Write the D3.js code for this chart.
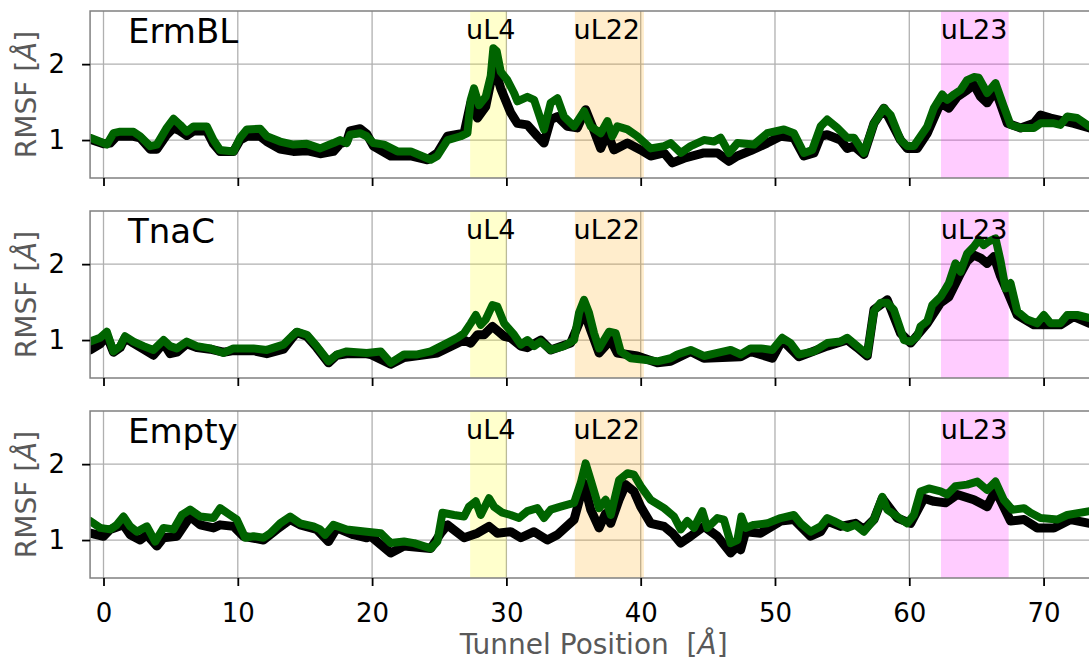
<!DOCTYPE html>
<html><head><meta charset="utf-8">
<script src="https://cdn.jsdelivr.net/npm/d3@7"></script>
<style>
body{margin:0;background:#fff}
svg{display:block}
text{font-family:"DejaVu Sans",sans-serif}
</style>
</head><body>
<svg id="c" width="1089" height="664"></svg>
<script>
// ---------- data ----------
const panelNames = ["ErmBL", "TnaC", "Empty"];
const xTicks = [0, 10, 20, 30, 40, 50, 60, 70];
const yTicks = [1, 2];
const regionNames = ["uL4", "uL22", "uL23"];
const regionStart = [27.3, 35.1, 62.36];
const regionEnd = [30.02, 40.24, 67.4];
const regionLabelX = [27.0, 35.0, 62.35];

// ErmBL panel
const ermblBlack = [[-0.99,1.01],[0,0.95],[0.5,0.96],[0.99,1.05],[2.23,1.05],[2.73,1.03],[3.47,0.88],[3.97,0.88],[4.71,1.07],[5.21,1.16],[5.71,1.12],[6.2,1.06],[6.7,1.12],[7.69,1.12],[8.19,0.95],[8.68,0.85],[9.68,0.85],[10.17,1.0],[10.67,1.05],[11.66,1.05],[12.16,0.98],[13.15,0.88],[14.14,0.85],[15.14,0.86],[16.13,0.82],[17.12,0.85],[17.62,0.95],[18.11,0.98],[18.36,1.12],[19.11,1.15],[19.6,1.08],[20.1,0.92],[21.39,0.79],[22.88,0.79],[24.12,0.74],[24.86,0.83],[25.61,1.05],[26.85,1.09],[27.34,1.49],[27.84,1.29],[28.46,1.44],[29.08,1.97],[29.58,1.68],[30.32,1.36],[30.82,1.22],[31.56,1.2],[32.31,1.05],[32.8,0.96],[33.3,1.27],[33.8,1.31],[34.54,1.18],[35.28,1.16],[35.9,1.4],[36.4,1.18],[37.02,0.89],[37.52,1.09],[38.01,0.87],[39.01,0.96],[40.0,0.87],[40.74,0.79],[41.74,0.83],[42.36,0.7],[43.23,0.76],[44.71,0.83],[45.71,0.83],[46.58,0.72],[47.2,0.79],[48.19,0.86],[49.42,0.96],[50.42,1.05],[51.41,1.03],[52.15,0.79],[52.9,0.83],[53.4,1.05],[53.89,1.07],[54.88,1.0],[55.38,0.89],[55.88,0.92],[56.62,0.81],[57.37,1.22],[58.11,1.42],[59.35,1.0],[59.85,0.89],[60.59,0.89],[61.34,1.09],[62.33,1.49],[62.95,1.42],[63.57,1.57],[64.31,1.66],[64.81,1.73],[65.31,1.57],[65.8,1.49],[66.42,1.66],[67.3,1.22],[68.29,1.16],[69.28,1.22],[69.77,1.33],[70.52,1.29],[71.51,1.25],[72.25,1.22],[73.42,1.16]];
const ermblGreen = [[-0.99,1.03],[0,0.96],[0.25,0.94],[0.74,1.09],[1.24,1.11],[2.23,1.11],[2.73,1.05],[3.47,0.92],[3.97,0.94],[4.71,1.16],[5.21,1.28],[5.71,1.2],[6.2,1.11],[6.7,1.18],[7.69,1.18],[8.19,1.0],[8.68,0.87],[9.68,0.85],[10.17,1.03],[10.67,1.14],[11.66,1.15],[12.16,1.05],[13.15,0.98],[14.14,0.94],[15.14,0.95],[16.13,0.89],[17.12,0.96],[17.62,1.0],[18.11,0.96],[18.36,1.07],[19.11,1.09],[19.6,1.05],[20.1,0.96],[20.89,0.94],[21.89,0.85],[22.88,0.85],[24.37,0.74],[24.86,0.79],[25.61,1.0],[26.6,1.05],[27.1,1.09],[27.34,1.53],[27.59,1.68],[27.96,1.46],[28.46,1.57],[28.83,1.84],[29.03,2.21],[29.28,2.17],[29.58,1.9],[30.07,1.79],[30.57,1.62],[30.82,1.51],[31.56,1.57],[32.06,1.53],[32.8,1.14],[33.3,1.49],[33.8,1.55],[34.29,1.31],[35.04,1.18],[35.78,1.38],[36.28,1.18],[37.02,1.09],[37.52,1.25],[37.89,1.05],[38.26,1.18],[39.01,1.14],[39.75,1.05],[40.74,0.89],[41.74,0.92],[42.23,0.96],[42.98,0.83],[43.72,0.92],[44.71,1.0],[45.46,0.98],[45.95,1.03],[46.58,0.83],[47.2,0.96],[48.43,0.94],[49.42,1.09],[49.92,1.11],[50.67,1.14],[51.41,1.09],[52.15,0.83],[52.77,0.87],[53.4,1.18],[53.89,1.27],[54.64,1.16],[55.38,1.03],[55.88,1.03],[56.62,0.83],[57.37,1.22],[58.11,1.42],[58.61,1.33],[59.35,1.0],[59.85,0.92],[60.34,0.92],[60.84,1.05],[61.34,1.18],[61.83,1.42],[62.45,1.6],[62.82,1.53],[63.32,1.6],[63.82,1.66],[64.31,1.79],[64.81,1.83],[65.18,1.82],[65.8,1.62],[66.42,1.75],[67.04,1.44],[67.54,1.2],[68.29,1.16],[69.28,1.16],[69.77,1.22],[70.77,1.22],[71.26,1.2],[71.76,1.31],[72.5,1.29],[73.42,1.18]];

// TnaC panel
const tnacBlack = [[-0.99,0.87],[-0.25,0.95],[0.25,1.06],[0.74,0.84],[1.24,0.9],[1.61,1.03],[2.23,0.96],[2.98,0.88],[3.72,0.8],[4.47,0.96],[4.96,0.82],[5.46,0.84],[6.2,0.95],[6.95,0.9],[7.94,0.88],[8.93,0.84],[9.68,0.86],[11.17,0.86],[12.16,0.82],[13.4,0.88],[14.02,1.02],[14.39,1.1],[15.14,1.05],[15.88,0.9],[16.75,0.7],[17.37,0.8],[18.11,0.82],[19.6,0.82],[19.9,0.81],[21.39,0.68],[22.38,0.77],[24.86,0.83],[26.85,1.0],[27.34,0.96],[27.84,1.07],[28.34,1.07],[28.96,1.18],[29.83,1.05],[30.32,1.03],[31.07,0.92],[31.56,0.9],[32.55,1.0],[33.3,0.87],[34.79,0.96],[35.78,1.38],[36.28,1.13],[36.9,0.83],[37.77,1.0],[38.26,0.83],[39.75,0.79],[41.24,0.7],[42.23,0.72],[43.72,0.85],[44.71,0.76],[47.44,0.78],[48.18,0.85],[49.8,0.76],[50.54,1.0],[51.78,0.78],[53.89,0.92],[55.38,1.0],[56.12,0.9],[56.87,0.79],[57.37,1.4],[58.36,1.53],[59.35,1.09],[60.1,0.96],[61.34,1.22],[62.33,1.49],[62.95,1.57],[63.82,1.88],[64.31,2.04],[64.81,2.12],[65.31,2.08],[65.8,2.01],[66.3,2.1],[66.8,1.84],[67.3,1.64],[68.04,1.33],[69.28,1.2],[71.26,1.2],[72.25,1.31],[73.42,1.22]];
const tnacGreen = [[-0.99,0.98],[-0.25,1.03],[0.25,1.11],[0.74,0.85],[1.24,0.92],[1.61,1.05],[2.23,0.98],[2.98,0.92],[3.72,0.87],[4.47,1.0],[4.96,0.92],[5.46,0.89],[6.2,0.98],[6.95,0.92],[7.94,0.89],[8.93,0.83],[9.68,0.89],[11.17,0.89],[12.16,0.87],[13.4,0.94],[14.02,1.05],[14.39,1.11],[15.14,1.07],[15.88,0.92],[16.75,0.72],[17.37,0.81],[18.11,0.85],[19.6,0.83],[20.64,0.85],[21.39,0.7],[22.38,0.81],[23.37,0.81],[24.37,0.85],[25.36,0.94],[26.35,1.03],[26.85,1.09],[27.34,1.22],[27.72,1.33],[28.09,1.2],[28.46,1.27],[28.96,1.46],[29.33,1.44],[29.83,1.22],[30.57,1.07],[31.07,0.94],[31.56,1.0],[32.06,0.92],[32.55,0.98],[33.3,0.87],[34.29,0.92],[35.04,1.0],[35.41,1.36],[35.78,1.53],[36.15,1.36],[36.53,1.09],[36.9,0.89],[37.27,1.0],[37.64,1.11],[38.14,1.09],[38.51,0.85],[39.25,0.76],[40.25,0.74],[41.24,0.72],[42.23,0.76],[42.73,0.81],[43.72,0.87],[44.71,0.79],[45.71,0.83],[46.7,0.87],[47.44,0.81],[48.18,0.89],[48.93,0.89],[49.8,0.87],[50.54,1.03],[51.16,0.96],[51.78,0.81],[52.9,0.85],[53.89,0.96],[54.88,0.98],[55.38,1.03],[56.12,0.92],[56.87,0.81],[57.37,1.38],[57.86,1.49],[58.36,1.49],[58.85,1.4],[59.35,1.14],[59.6,1.0],[60.1,0.98],[60.59,1.05],[60.84,1.18],[61.34,1.25],[61.71,1.46],[62.33,1.57],[62.58,1.64],[62.95,1.75],[63.44,2.01],[63.82,1.9],[64.31,2.14],[64.81,2.23],[65.18,2.32],[65.55,2.25],[65.93,2.3],[66.42,2.34],[66.8,2.04],[67.17,1.68],[67.54,1.75],[68.04,1.38],[68.78,1.27],[69.52,1.22],[70.02,1.33],[70.52,1.22],[71.26,1.22],[71.76,1.33],[72.5,1.33],[73.42,1.29]];

// Empty panel
const emptyBlack = [[-0.99,1.09],[0,1.05],[0.5,1.14],[1.49,1.2],[1.99,1.07],[2.73,1.0],[3.23,1.07],[3.97,0.92],[4.47,1.03],[5.46,1.05],[6.45,1.31],[7.2,1.2],[8.19,1.16],[8.68,1.2],[9.68,1.18],[10.42,1.05],[11.91,1.0],[12.9,1.14],[13.9,1.27],[14.64,1.2],[15.88,1.14],[16.75,0.98],[17.37,1.16],[18.61,1.07],[19.6,1.03],[19.9,1.05],[21.39,0.83],[22.38,0.92],[24.37,0.89],[25.11,1.09],[25.61,1.2],[26.85,1.03],[27.84,1.09],[28.71,1.18],[29.33,1.09],[30.32,1.11],[31.07,1.03],[32.06,1.11],[33.05,1.0],[33.8,1.07],[35.04,1.27],[35.78,1.75],[36.28,1.4],[36.9,1.16],[37.39,1.35],[37.77,1.22],[38.39,1.53],[38.88,1.73],[39.5,1.64],[40.0,1.44],[40.74,1.22],[41.74,1.18],[42.36,1.09],[42.98,0.96],[43.72,1.05],[44.71,1.18],[45.71,1.05],[46.7,0.83],[47.2,0.92],[47.44,0.87],[47.81,1.11],[48.93,1.09],[50.42,1.25],[51.41,1.27],[52.65,1.05],[53.4,1.11],[53.89,1.25],[54.88,1.18],[56.0,1.22],[56.62,1.14],[57.37,1.27],[57.99,1.55],[59.1,1.29],[60.1,1.22],[61.09,1.55],[61.83,1.51],[62.7,1.49],[63.57,1.6],[64.81,1.53],[65.8,1.44],[66.42,1.66],[67.54,1.25],[68.54,1.27],[69.52,1.16],[70.77,1.16],[72.01,1.27],[73.42,1.22]];
const emptyGreen = [[-0.99,1.25],[-0.25,1.16],[0.5,1.14],[0.99,1.2],[1.49,1.31],[1.99,1.18],[2.48,1.11],[3.23,1.18],[3.85,0.98],[4.47,1.16],[5.21,1.14],[5.83,1.33],[6.45,1.4],[7.2,1.31],[8.19,1.29],[8.68,1.42],[9.43,1.33],[9.93,1.27],[10.55,1.03],[11.17,1.05],[11.91,1.03],[12.41,1.09],[13.15,1.22],[13.9,1.31],[14.64,1.22],[15.63,1.18],[16.13,1.14],[16.5,1.07],[17.12,1.2],[18.11,1.14],[19.6,1.11],[20.64,1.09],[21.39,0.96],[22.38,0.98],[23.13,0.96],[24.37,0.89],[24.86,0.98],[25.24,1.36],[26.1,1.33],[26.85,1.31],[27.22,1.44],[27.72,1.51],[28.09,1.33],[28.71,1.55],[29.08,1.44],[29.7,1.36],[30.32,1.33],[30.94,1.29],[31.56,1.38],[32.31,1.42],[32.8,1.29],[33.3,1.4],[34.04,1.44],[35.04,1.49],[35.53,1.75],[35.9,2.01],[36.28,1.79],[36.9,1.42],[37.39,1.53],[37.77,1.33],[38.39,1.79],[39.01,1.88],[39.5,1.86],[40.0,1.71],[40.74,1.53],[41.74,1.42],[42.48,1.31],[42.98,1.14],[43.47,1.25],[43.97,1.16],[44.59,1.38],[44.96,1.16],[45.71,1.29],[46.2,1.27],[46.7,0.96],[47.2,1.0],[47.5,1.31],[47.81,1.16],[48.43,1.2],[49.42,1.22],[50.42,1.29],[51.41,1.33],[51.91,1.22],[52.65,1.11],[53.4,1.18],[53.89,1.29],[54.39,1.25],[55.38,1.16],[56.0,1.2],[56.62,1.11],[57.37,1.27],[57.99,1.57],[58.36,1.4],[59.1,1.31],[59.85,1.22],[60.34,1.33],[60.84,1.64],[61.46,1.68],[62.33,1.64],[62.82,1.6],[63.44,1.71],[64.31,1.73],[65.06,1.77],[65.8,1.66],[66.42,1.77],[67.04,1.53],[67.66,1.4],[68.54,1.42],[69.03,1.36],[69.77,1.29],[71.01,1.27],[71.76,1.33],[73.42,1.38]];

const blackSeries = [ermblBlack, tnacBlack, emptyBlack];
const greenSeries = [ermblGreen, tnacGreen, emptyGreen];

// ---------- drawing ----------
const svg = d3.select("#c");
const regionColors = ["#ffff00", "#ffa500", "#ff00ff"];
const x = d3.scaleLinear().domain([-1, 74]).range([90.07, 1097.3]);
const panelTop = [11, 211, 411];
const panelH = 167;
const plotL = x.range()[0], plotR = x.range()[1];

svg.append("defs").append("clipPath").attr("id", "clip")
  .append("rect").attr("x", plotL).attr("y", 0).attr("width", plotR - plotL).attr("height", panelH);

panelNames.forEach((name, i) => {
  const y = d3.scaleLinear().domain([0.5, 2.7]).range([panelH, 0]);
  const g = svg.append("g").attr("transform", `translate(0,${panelTop[i]})`);

  // grid
  g.append("g").selectAll("line").data(xTicks).join("line")
    .attr("x1", d => x(d)).attr("x2", d => x(d)).attr("y1", 0).attr("y2", panelH)
    .attr("stroke", "#b0b0b0").attr("stroke-width", 1.3);
  g.append("g").selectAll("line").data(yTicks).join("line")
    .attr("x1", plotL).attr("x2", plotR).attr("y1", d => y(d)).attr("y2", d => y(d))
    .attr("stroke", "#b0b0b0").attr("stroke-width", 1.3);

  // shaded regions
  g.append("g").selectAll("rect").data(regionNames).join("rect")
    .attr("x", (d, k) => x(regionStart[k]))
    .attr("width", (d, k) => x(regionEnd[k]) - x(regionStart[k]))
    .attr("y", 0).attr("height", panelH)
    .attr("fill", (d, k) => regionColors[k]).attr("fill-opacity", 0.2);

  // lines
  const line = d3.line().x(d => x(d[0])).y(d => y(d[1])).curve(d3.curveLinear);
  const lg = g.append("g").attr("clip-path", "url(#clip)");
  lg.append("path").datum(blackSeries[i]).attr("d", line)
    .attr("fill", "none").attr("stroke", "#000").attr("stroke-width", 9)
    .attr("stroke-linejoin", "round").attr("stroke-linecap", "round");
  lg.append("path").datum(greenSeries[i]).attr("d", line)
    .attr("fill", "none").attr("stroke", "#006400").attr("stroke-width", 8)
    .attr("stroke-linejoin", "round").attr("stroke-linecap", "round");

  // region labels
  g.append("g").selectAll("text").data(regionNames).join("text")
    .attr("x", (d, k) => x(regionLabelX[k])).attr("y", 28)
    .attr("font-size", 27).attr("fill", "#000").text(d => d);

  // panel title
  g.append("text").attr("x", 128).attr("y", 32).attr("font-size", 34)
    .attr("fill", "#000").text(name);

  // spines
  g.append("rect").attr("x", plotL).attr("y", 0).attr("width", plotR - plotL).attr("height", panelH)
    .attr("fill", "none").attr("stroke", "#808080").attr("stroke-width", 1.5);

  // axes
  const xa = d3.axisBottom(x).tickValues(xTicks).tickSize(8).tickPadding(18)
    .tickFormat(i === 2 ? d3.format("d") : () => "");
  const xg = g.append("g").attr("transform", `translate(0,${panelH})`).call(xa);
  xg.select(".domain").remove();
  xg.selectAll(".tick line").attr("stroke", "#000").attr("stroke-width", 1.8);
  xg.selectAll(".tick text").attr("font-size", 26).attr("font-family", "DejaVu Sans").attr("fill", "#000");

  const ya = d3.axisLeft(y).tickValues(yTicks).tickSize(8).tickPadding(17).tickFormat(d3.format("d"));
  const yg = g.append("g").attr("transform", `translate(${plotL},0)`).call(ya);
  yg.select(".domain").remove();
  yg.selectAll(".tick line").attr("stroke", "#000").attr("stroke-width", 1.8);
  yg.selectAll(".tick text").attr("font-size", 26).attr("font-family", "DejaVu Sans").attr("fill", "#000");

  // y label
  const yl = g.append("text").attr("transform", `translate(36,${panelH / 2}) rotate(-90)`)
    .attr("text-anchor", "middle").attr("font-size", 28).attr("fill", "#595959");
  yl.append("tspan").text("RMSF [");
  yl.append("tspan").attr("font-style", "italic").text("Å");
  yl.append("tspan").text("]");
});

// x label
const xl = svg.append("text").attr("x", (plotL + plotR) / 2).attr("y", 654)
  .attr("text-anchor", "middle").attr("font-size", 28).attr("fill", "#595959")
  .attr("xml:space", "preserve").style("white-space", "pre");
xl.append("tspan").text("Tunnel Position  [");
xl.append("tspan").attr("font-style", "italic").text("Å");
xl.append("tspan").text("]");
</script>
</body></html>
